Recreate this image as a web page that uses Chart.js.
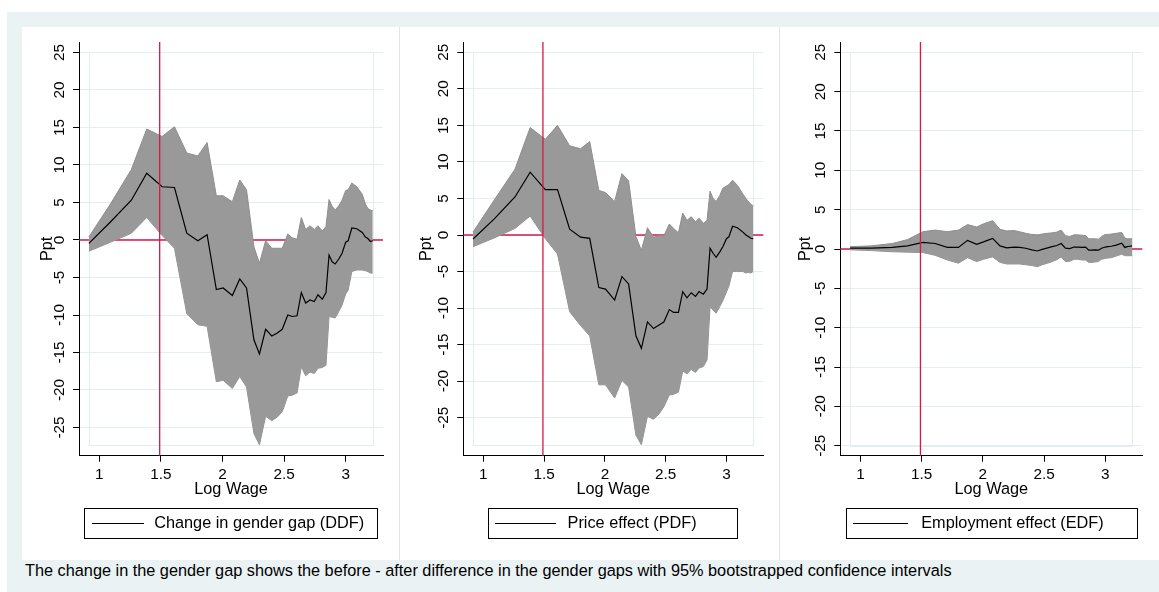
<!DOCTYPE html>
<html>
<head>
<meta charset="utf-8">
<script src="https://cdn.jsdelivr.net/npm/chart.js@4/dist/chart.umd.min.js"></script>
<style>
  html, body { margin: 0; padding: 0; background: #ffffff; }
  body { width: 1159px; height: 592px; position: relative; overflow: hidden;
         font-family: "Liberation Sans", Arial, sans-serif; }
  #frame { position: absolute; left: 7px; top: 12px; width: 1152px; height: 580px; background: #eaf2f3; }
  .panel { position: absolute; top: 27px; height: 533px; background: #ffffff; }
  .sep { position: absolute; top: 27px; height: 533px; width: 1px; background: #dde7ea; }
  canvas { position: absolute; top: 27px; }
  #note { position: absolute; left: 25px; top: 562px; font-size: 16.3px; line-height: 16.3px;
          color: #000; white-space: nowrap; }
</style>
</head>
<body>
<div id="frame"></div>
<div class="panel" style="left:22px;width:377px"></div>
<div class="panel" style="left:399px;width:380px"></div>
<div class="panel" style="left:779px;width:380px"></div>
<div class="sep" style="left:399px"></div>
<div class="sep" style="left:779px"></div>
<canvas id="c1" width="377" height="533" style="left:22px"></canvas>
<canvas id="c2" width="380" height="533" style="left:399px"></canvas>
<canvas id="c3" width="380" height="533" style="left:779px"></canvas>
<div id="note">The change in the gender gap shows the before - after difference in the gender gaps with 95% bootstrapped confidence intervals</div>

<script>
// ---- data -------------------------------------------------------------
const logWage = [0.915, 1.09, 1.26, 1.385, 1.51, 1.61, 1.71, 1.80, 1.875, 1.95, 2.005, 2.08, 2.14, 2.195,
  2.255, 2.30, 2.35, 2.40, 2.445, 2.485, 2.53, 2.565, 2.605, 2.64, 2.675, 2.71, 2.745, 2.775, 2.81, 2.84,
  2.865, 2.89, 2.915, 2.945, 2.97, 3.0, 3.02, 3.05, 3.09, 3.135, 3.16, 3.18, 3.20, 3.22];

// Change in gender gap (DDF) with 95% bootstrap band
const ddf   = [-0.45, 2.4, 5.3, 8.9, 7.1, 7.0, 0.9, -0.1, 0.7, -6.6, -6.4, -7.4, -5.2, -6.4, -13.3, -15.2,
  -11.9, -12.8, -12.4, -11.9, -10.0, -10.2, -10.1, -7.0, -8.4, -8.0, -8.2, -7.3, -7.9, -7.0, -2.0, -2.9,
  -3.2, -2.5, -1.8, -0.3, -0.1, 1.6, 1.5, 1.0, 0.4, 0.2, -0.2, -0.1];
const ddfHi = [0.4, 4.8, 9.4, 14.8, 13.8, 15.1, 11.6, 11.2, 13.0, 5.9, 5.9, 5.1, 8.0, 6.7, -0.9, -3.1,
  -0.1, -1.1, -1.1, -1.1, 0.8, 0.3, 0.1, 3.0, 1.4, 1.9, 1.4, 1.9, 1.2, 1.8, 5.4, 4.5, 4.0, 4.6, 5.3, 6.6,
  6.7, 7.6, 7.1, 6.1, 4.8, 4.2, 4.0, 3.9];
const ddfLo = [-1.5, -0.3, 0.9, 3.0, 0.6, -1.1, -9.8, -11.3, -11.5, -18.9, -18.7, -19.8, -18.2, -19.6,
  -25.8, -27.3, -23.5, -24.1, -23.6, -22.9, -20.8, -20.7, -20.4, -16.9, -18.1, -17.6, -17.8, -17.1, -17.0,
  -16.7, -10.2, -10.3, -10.4, -9.5, -8.7, -7.2, -6.7, -4.2, -4.0, -4.0, -4.1, -4.2, -4.4, -4.4];

// Price effect (PDF)
const pdf   = [-0.55, 2.2, 5.2, 8.6, 6.2, 6.2, 0.8, -0.3, -0.45, -7.2, -7.4, -8.9, -5.7, -6.7, -13.8,
  -15.5, -11.9, -12.8, -12.3, -11.9, -10.2, -10.6, -10.6, -7.75, -8.6, -7.9, -8.4, -7.75, -8.1, -7.4,
  -1.8, -2.5, -3.05, -2.3, -1.6, -0.5, -0.25, 1.2, 1.0, 0.4, 0.0, -0.2, -0.45, -0.5];
const pdfHi = [0.4, 4.8, 9.0, 14.7, 13.1, 15.0, 12.2, 11.8, 12.8, 6.1, 5.8, 4.6, 8.4, 7.4, -0.2, -2.1,
  1.0, -0.3, -0.1, -0.1, 1.5, 0.9, 0.3, 3.0, 2.0, 2.5, 1.8, 2.3, 1.6, 2.0, 6.0, 5.0, 4.6, 5.4, 6.4, 6.7,
  6.9, 7.5, 6.8, 5.6, 5.0, 4.6, 4.2, 4.0];
const pdfLo = [-1.6, -0.4, 0.9, 2.6, -0.5, -2.6, -10.5, -12.4, -13.8, -20.5, -20.5, -22.3, -19.9, -20.8,
  -27.4, -28.7, -24.8, -25.2, -24.5, -23.5, -21.9, -21.8, -21.5, -18.6, -19.0, -18.4, -18.8, -18.2, -18.0,
  -17.1, -9.8, -10.3, -10.7, -9.8, -9.0, -7.8, -7.0, -5.0, -5.0, -5.0, -5.2, -5.1, -5.2, -5.0];

// Employment effect (EDF)
const edf   = [0.1, 0.1, 0.2, 0.4, 0.85, 0.7, 0.2, 0.2, 1.1, 0.6, 0.9, 1.35, 0.4, 0.15, 0.25, 0.2, 0.1,
  -0.1, -0.25, -0.05, 0.15, 0.3, 0.45, 0.7, 0.1, 0.05, 0.25, 0.25, 0.2, 0.25, -0.15, -0.15, -0.1, -0.15,
  0.1, 0.25, 0.3, 0.35, 0.5, 0.75, 0.2, 0.3, 0.35, 0.4];
const edfHi = [0.3, 0.4, 0.7, 1.2, 2.2, 2.4, 2.2, 2.4, 3.1, 2.8, 3.2, 3.6, 2.5, 2.3, 2.35, 2.2, 2.0, 1.85,
  1.8, 1.9, 2.0, 2.05, 2.15, 2.4, 1.7, 1.6, 1.8, 1.8, 1.75, 1.7, 1.3, 1.3, 1.3, 1.25, 1.6, 1.85, 1.85,
  1.9, 2.0, 2.1, 1.4, 1.3, 1.3, 1.3];
const edfLo = [-0.1, -0.2, -0.35, -0.4, -0.45, -0.8, -1.4, -1.8, -1.1, -1.6, -1.3, -1.0, -1.7, -1.9, -1.9,
  -1.9, -2.0, -2.1, -2.25, -2.0, -1.8, -1.6, -1.35, -1.0, -1.6, -1.55, -1.3, -1.3, -1.4, -1.4, -1.7, -1.7,
  -1.65, -1.6, -1.3, -1.2, -1.15, -1.1, -0.9, -0.65, -0.85, -0.85, -0.85, -0.85];

const xTicks = [1, 1.5, 2, 2.5, 3];
const yTicks = [-25, -20, -15, -10, -5, 0, 5, 10, 15, 20, 25];
const refLogWage = 1.49;   // vertical reference line
const refZero = 0;         // horizontal reference line
const seriesNames = ['Change in gender gap (DDF)', 'Price effect (PDF)', 'Employment effect (EDF)'];
const xTitle = 'Log Wage';
const yTitle = 'Ppt';

// ---- styling ------------------------------------------------------------
const FONT = '"Liberation Sans", Arial, sans-serif';
const GRID = '#e4edef';
const BAND = '#999999';
const BAND_EDGE = '#8e8e8e';
const RED = '#d01a4b';

Chart.defaults.font.family = FONT;
Chart.defaults.color = '#000';

// per-panel layout (canvas pixels)
const panels = [
  { canvas: 'c1', name: seriesNames[0], mid: ddf, hi: ddfHi, lo: ddfLo,
    yMin: -28.76, yMax: 26.4, axisW: 57, padR: 16, titlePad: 15.9,
    sample: { start: 69.7, len: 52, gap: 2.3 }, box: { left: 62.3, width: 293.4 } },
  { canvas: 'c2', name: seriesNames[1], mid: pdf, hi: pdfHi, lo: pdfLo,
    yMin: -30.2, yMax: 26.41, axisW: 64.3, padR: 15.7, titlePad: 17.7,
    sample: { start: 96, len: 61, gap: 3.4 }, box: { left: 89.3, width: 249 } },
  { canvas: 'c3', name: seriesNames[2], mid: edf, hi: edfHi, lo: edfLo,
    yMin: -26.27, yMax: 26.31, axisW: 61.3, padR: 16.7, titlePad: 16.9,
    sample: { start: 74, len: 55, gap: 5.1 }, box: { left: 67, width: 290.7 } }
];

const LEGEND_PAD = 10;
const LEGEND_FONT = 16.3;

// legend sample: a short black line drawn on a small canvas
function lineSample(len) {
  const c = document.createElement('canvas');
  c.width = len; c.height = 3;
  const g = c.getContext('2d');
  g.fillStyle = '#000';
  g.fillRect(0, 1, len, 1);
  return c;
}

const panelDecor = {
  id: 'panelDecor',
  afterLayout(chart, args, opts) {
    // left-justify the legend entry inside its frame
    const lg = chart.legend;
    const target = opts.sample.start - opts.sample.gap;
    const shift = target - (lg.left + LEGEND_PAD);
    lg.left += shift;
    lg.right += shift;
  },
  beforeDatasetsDraw(chart, args, opts) {
    const { ctx, chartArea: a, scales: { x, y } } = chart;
    ctx.save();
    // plot-region outline spanning the data
    const x0 = Math.round(x.getPixelForValue(opts.xLo)) + 0.5;
    const x1 = Math.round(x.getPixelForValue(opts.xHi)) + 0.5;
    const y0 = Math.round(y.getPixelForValue(opts.yHi)) + 0.5;
    const y1 = Math.round(y.getPixelForValue(opts.yLo)) + 0.5;
    ctx.strokeStyle = GRID;
    ctx.lineWidth = 1;
    ctx.strokeRect(x0, y0, x1 - x0, y1 - y0);
    // zero line, beneath the band
    const yz = y.getPixelForValue(refZero);
    ctx.strokeStyle = RED;
    ctx.lineWidth = 1.3;
    ctx.beginPath();
    ctx.moveTo(a.left, yz);
    ctx.lineTo(a.right, yz);
    ctx.stroke();
    ctx.restore();
  },
  afterDatasetsDraw(chart) {
    const { ctx, chartArea: a, scales: { x } } = chart;
    const xv = x.getPixelForValue(refLogWage);
    ctx.save();
    ctx.strokeStyle = RED;
    ctx.lineWidth = 1.3;
    ctx.beginPath();
    ctx.moveTo(xv, a.top);
    ctx.lineTo(xv, a.bottom);
    ctx.stroke();
    ctx.restore();
  },
  afterDraw(chart, args, opts) {
    const { ctx } = chart;
    const lg = chart.legend;
    const cy = lg.top + LEGEND_PAD + LEGEND_FONT / 2;
    ctx.save();
    ctx.strokeStyle = '#000';
    ctx.lineWidth = 1;
    ctx.strokeRect(Math.round(opts.box.left) + 0.5, Math.round(cy - 15) + 0.5, Math.round(opts.box.width), 30);
    ctx.restore();
  }
};

function points(ys) {
  return logWage.map((v, i) => ({ x: v, y: ys[i] }));
}

panels.forEach(p => {
  const lows = Math.min(-25, ...p.lo);
  const highs = Math.max(25, ...p.hi);
  new Chart(document.getElementById(p.canvas), {
    type: 'line',
    data: {
      datasets: [
        { label: p.name, data: points(p.mid), borderColor: '#000', borderWidth: 1.2,
          pointRadius: 0, fill: false, tension: 0 },
        { label: '95% CI upper', data: points(p.hi), borderColor: BAND_EDGE, borderWidth: 1,
          backgroundColor: BAND, pointRadius: 0, fill: '+1', tension: 0 },
        { label: '95% CI lower', data: points(p.lo), borderColor: BAND_EDGE, borderWidth: 1,
          pointRadius: 0, fill: false, tension: 0 }
      ]
    },
    options: {
      responsive: false,
      animation: false,
      events: [],
      layout: { padding: { left: 0, right: p.padR, top: 15, bottom: 18.4 } },
      scales: {
        x: {
          type: 'linear', min: 0.835, max: 3.303,
          afterBuildTicks: s => { s.ticks = xTicks.map(v => ({ value: v })); },
          afterFit: s => { s.height = 49.6; },
          grid: { drawOnChartArea: false, drawTicks: true, tickLength: 6, tickColor: '#000', tickWidth: 1 },
          border: { display: true, color: '#000', width: 1 },
          ticks: { font: { size: 15.3 }, color: '#000', padding: 3.6, maxRotation: 0, autoSkip: false,
                   callback: v => String(v) },
          title: { display: true, text: xTitle, font: { size: 16.3 }, color: '#000',
                   padding: { top: 0, bottom: 6 } }
        },
        y: {
          type: 'linear', min: p.yMin, max: p.yMax,
          afterBuildTicks: s => { s.ticks = yTicks.map(v => ({ value: v })); },
          afterFit: s => { s.width = p.axisW; },
          grid: { color: GRID, lineWidth: 1, tickLength: 6, tickColor: '#000', tickWidth: 1 },
          border: { display: true, color: '#000', width: 1 },
          ticks: { font: { size: 15.3 }, color: '#000', padding: 2, minRotation: 90, maxRotation: 90,
                   crossAlign: 'center', autoSkip: false, callback: v => String(v) },
          title: { display: true, text: yTitle, font: { size: 16.3 }, color: '#000',
                   padding: { top: p.titlePad, bottom: 0 } }
        }
      },
      plugins: {
        legend: {
          display: true, position: 'bottom', align: 'start', fullSize: false,
          labels: {
            filter: item => item.datasetIndex === 0,
            usePointStyle: true,
            pointStyle: lineSample(p.sample.len),
            pointStyleWidth: p.sample.len + 2 * p.sample.gap,
            boxHeight: LEGEND_FONT,
            font: { size: LEGEND_FONT }, color: '#000', padding: LEGEND_PAD
          }
        },
        tooltip: { enabled: false },
        panelDecor: {
          sample: p.sample, box: p.box,
          xLo: logWage[0], xHi: logWage[logWage.length - 1], yLo: lows, yHi: highs
        }
      }
    },
    plugins: [panelDecor]
  });
});
</script>
</body>
</html>
